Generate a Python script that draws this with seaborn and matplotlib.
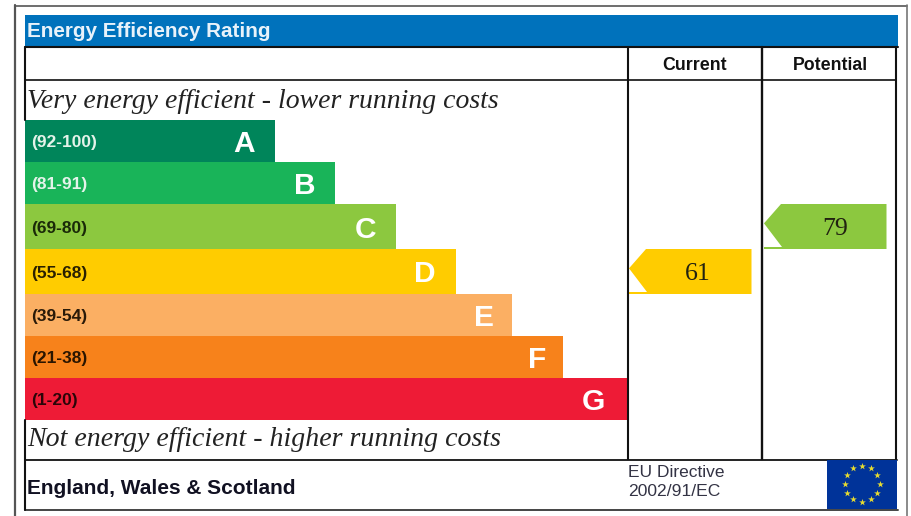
import numpy as np
import pandas as pd
import seaborn as sns
import matplotlib
matplotlib.use("Agg")
import matplotlib.pyplot as plt
from matplotlib.patches import Polygon, Rectangle

# ---- data
ratings = ["A", "B", "C", "D", "E", "F", "G"]
ranges = ["(92-100)", "(81-91)", "(69-80)", "(55-68)", "(39-54)", "(21-38)", "(1-20)"]
bar_lengths = [250, 310, 371, 431, 487, 538, 603]
band_colors = ["#00855A", "#19B459", "#8CC83F", "#FFCC00", "#FBAF63", "#F7821B", "#EE1B36"]
range_text_colors = ["#E4F3EA", "#E4F3EA", "#1A2A08", "#2A2000", "#2A1A08", "#2A1500", "#2A0508"]
current_value = 61
current_band = "D"
potential_value = 79
potential_band = "C"

W, H = 911, 516
FIG = plt.figure(figsize=(W / 100, H / 100), dpi=100, facecolor="white")
sns.set_theme(style="white")
plt.rcParams["font.family"] = ["Liberation Sans", "DejaVu Sans"]

# page axes in pixel units, drawn above the bars
page = FIG.add_axes([0, 0, 1, 1], facecolor="none")
page.set_xlim(0, W)
page.set_ylim(H, 0)
page.axis("off")
page.set_zorder(2)

# bar axes: band scale covering the scale area
left, top, bottom, right = 25, 120, 420, 628
bars = FIG.add_axes([left / W, 1 - bottom / H, (right - left) / W, (bottom - top) / H], facecolor="none")
bars.set_zorder(1)
df = pd.DataFrame({"rating": ratings, "length": bar_lengths})
sns.barplot(data=df, x="length", y="rating", hue="rating", palette=band_colors, width=1.0,
            dodge=False, legend=False, ax=bars, saturation=1, linewidth=0)
bars.set_xlim(0, right - left)
bars.set_ylim(6.5, -0.5)
bars.axis("off")

# row edges in the picture are slightly uneven
row_edges = [120, 162, 204, 249, 294, 336, 378, 420]
letter_nudge = [0, 0, 0, 0, 2, 3, -3]
unit = (bottom - top) / len(ratings)
row_mid = {}
for i, patch in enumerate(bars.patches[:len(ratings)]):
    y0 = (row_edges[i] - top) / unit - 0.5
    y1 = (row_edges[i + 1] - top) / unit - 0.5
    patch.set_y(y0)
    patch.set_height(y1 - y0)
    row_mid[ratings[i]] = (row_edges[i] + row_edges[i + 1]) / 2

for i, r in enumerate(ratings):
    mid = row_mid[r]
    page.text(31, mid + 1.8, ranges[i], color=range_text_colors[i], fontsize=12.5, fontweight="bold",
              ha="left", va="center", zorder=5)
    x_end = left + bar_lengths[i]
    page.text(x_end - 20 + letter_nudge[i], mid + 3, r, color="white", fontsize=21.5, fontweight="bold",
              ha="right", va="center", zorder=5)

# frame
gray = "#555555"
page.plot([14.5, 14.5], [5, H], color=gray, lw=1.6)
page.plot([14.5, 907], [5.5, 5.5], color=gray, lw=1.2)
page.plot([907, 907], [5, H], color="#777777", lw=1.2)
page.add_patch(Rectangle((25, 15), 873, 32, facecolor="#0072BC", edgecolor="none", zorder=1))
page.plot([25, 898], [47, 47], color="#111111", lw=1.5, zorder=3)
page.plot([25, 896], [80, 80], color="#222222", lw=1.3, zorder=3)
page.plot([25, 897], [459.5, 459.5], color="#222222", lw=1.4, zorder=3)
page.plot([24.5, 898], [509.5, 509.5], color="#444444", lw=1.4, zorder=3)
page.plot([25, 25], [47, 120], color="#111111", lw=1.5, zorder=3)
page.plot([25, 25], [420, 510], color="#111111", lw=1.5, zorder=3)
page.plot([628, 628], [47, 459], color="#111111", lw=1.5, zorder=3)
page.plot([762, 762], [47, 459], color="#111111", lw=1.7, zorder=3)
page.plot([896, 896], [47, 459], color="#111111", lw=1.5, zorder=3)

# texts
page.text(27, 31.5, "Energy Efficiency Rating", color="#E8F2FA", fontsize=14.9, fontweight="bold", va="center", ha="left", zorder=5)
page.text(695, 65, "Current", color="#111111", fontsize=12.8, fontweight="bold", va="center", ha="center")
page.text(830, 65, "Potential", color="#111111", fontsize=12.8, fontweight="bold", va="center", ha="center")
page.text(27, 101.5, "Very energy efficient - lower running costs", color="#222222", fontsize=20,
          family=["Liberation Serif"], style="italic", va="center", ha="left")
page.text(27, 439, "Not energy efficient - higher running costs", color="#222222", fontsize=20.1,
          family=["Liberation Serif"], style="italic", va="center", ha="left")
page.text(27, 488, "England, Wales & Scotland", color="#111122", fontsize=15.05, fontweight="bold", va="center", ha="left")
page.text(628, 472.5, "EU Directive", color="#333344", fontsize=12.5, va="center", ha="left")
page.text(628, 491.5, "2002/91/EC", color="#333344", fontsize=12.6, va="center", ha="left")


def arrow(x0, x1, band, value, colour, text_x):
    i = ratings.index(band)
    y0, y1 = row_edges[i], row_edges[i + 1]
    tip_y = y0 + (y1 - y0) * 0.43
    notch = 17
    page.add_patch(Polygon([(x0, tip_y), (x0 + notch, y0), (x1, y0), (x1, y1), (x0, y1), (x0, y1 - 2),
                            (x0 + notch + 1, y1 - 2)], closed=True, facecolor=colour, edgecolor="none", zorder=2))
    page.text(text_x, tip_y + 6, str(value), color="#222211", fontsize=18.5, family=["Liberation Serif"],
              ha="center", va="center", zorder=5)


arrow(629, 751.5, current_band, current_value, band_colors[ratings.index(current_band)], 698)
arrow(764, 886.5, potential_band, potential_value, band_colors[ratings.index(potential_band)], 835)

# EU flag
page.add_patch(Rectangle((827, 460), 70, 49, facecolor="#003399", edgecolor="none", zorder=4))
ang = np.deg2rad(np.arange(0, 360, 30))
page.scatter(862 + 17.5 * np.cos(ang), 483.5 + 18 * np.sin(ang), marker="*", s=26, color="#E8DC30", linewidths=0, zorder=5)

FIG.savefig("out.png", dpi=100)
